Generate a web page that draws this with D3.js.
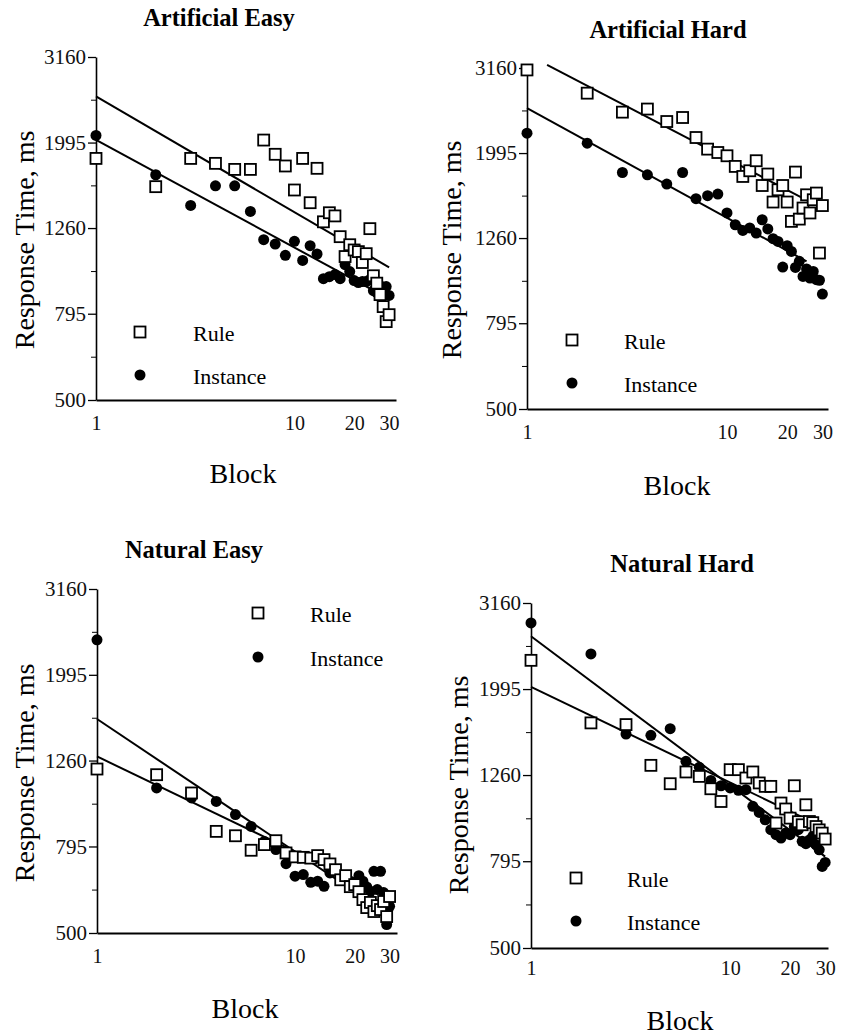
<!DOCTYPE html>
<html>
<head>
<meta charset="utf-8">
<script src="https://cdn.jsdelivr.net/npm/d3@7"></script>
<style>
  body { margin: 0; background: #fff; }
  svg { display: block; font-family: 'Liberation Serif', 'Times New Roman', serif; }
</style>
</head>
<body>
<svg id="chart" width="841" height="1035"></svg>
<script>
const blocks = [1, 2, 3, 4, 5, 6, 7, 8, 9, 10, 11, 12, 13, 14, 15, 16, 17, 18, 19, 20, 21, 22, 23, 24, 25, 26, 27, 28, 29, 30]
const yTicks = [500, 795, 1260, 1995, 3160]
const yMinorTicks = [631, 1000, 1585, 2512]
const xTicks = [1, 10, 20, 30]
const titles = ['Artificial Easy', 'Artificial Hard', 'Natural Easy', 'Natural Hard']

// response times per block
const ruleAE = [1832, 1574, 1832, 1784, 1727, 1727, 2022, 1873, 1759, 1546, 1832, 1444, 1737, 1303, 1368, 1345, 1203, 1081, 1152, 1120, 1110, 1047, 1098, 1256, 975, 937, 881, 826, 762, 791]
const instAE = [2073, 1678, 1423, 1581, 1581, 1378, 1184, 1156, 1088, 1173, 1059, 1146, 1096, 960, 970, 981, 960, 1035, 997, 950, 940, 945, 945, 955, 900, 891, 925, 891, 920, 877]
const ruleAH = [3127, 2758, 2489, 2531, 2366, 2418, 2170, 2038, 2001, 1966, 1856, 1758, 1813, 1914, 1674, 1781, 1531, 1636, 1674, 1531, 1379, 1800, 1396, 1482, 1592, 1443, 1550, 1607, 1162, 1502]
const instAH = [2222, 2105, 1796, 1774, 1687, 1796, 1559, 1584, 1598, 1443, 1354, 1313, 1331, 1295, 1391, 1324, 1256, 1237, 1077, 1209, 1172, 1075, 1111, 1024, 1066, 1015, 1052, 1006, 1003, 931]
const ruleNE = [1204, 1168, 1059, 862, 842, 779, 803, 820, 768, 752, 750, 747, 757, 741, 724, 702, 665, 680, 641, 648, 624, 598, 573, 589, 561, 579, 567, 592, 546, 608]
const instNE = [2406, 1088, 1031, 1012, 943, 885, 817, 782, 725, 678, 684, 656, 660, 642, 690, 696, 680, 672, 660, 650, 680, 660, 640, 625, 696, 631, 696, 621, 523, 577]
const ruleNH = [2326, 1665, 1650, 1327, 1203, 1281, 1251, 1171, 1094, 1297, 1297, 1240, 1281, 1208, 1186, 1186, 975, 1085, 1051, 1001, 1190, 982, 966, 1075, 983, 977, 957, 940, 924, 895]
const instNH = [2841, 2407, 1569, 1558, 1614, 1356, 1313, 1224, 1190, 1176, 1161, 1165, 1066, 1032, 992, 941, 916, 900, 924, 916, 957, 941, 884, 873, 891, 908, 868, 845, 773, 790]

// fitted power-law lines, [block, ms] end points
const fitRuleAE = [[1, 2556], [30, 1020]]
const fitInstAE = [[1, 2024], [30, 861]]
const fitRuleAH = [[1.26, 3214], [30, 1479]]
const fitInstAH = [[1, 2543], [25, 1111]]
const fitRuleNE = [[1, 1288], [30, 606]]
const fitInstNE = [[1, 1574], [30, 551]]
const fitRuleNH = [[1, 2018], [30, 949]]
const fitInstNH = [[1, 2645], [30, 815]]

const panels = [
  { rule: ruleAE, inst: instAE, fitRule: fitRuleAE, fitInst: fitInstAE,
    x0: 96, x1: 396, xMax: 32.5, yTop: 57, yBot: 400, title: [219, 26], tickY: 430, block: [243, 483], ylab: [25, 240], legend: [140, 332, 375, 193] },
  { rule: ruleAH, inst: instAH, fitRule: fitRuleAH, fitInst: fitInstAH,
    x0: 527, x1: 828, xMax: 32, yTop: 68, yBot: 409, title: [668, 38], tickY: 439, block: [677, 495], ylab: [452, 250], legend: [572, 340, 383, 624] },
  { rule: ruleNE, inst: instNE, fitRule: fitRuleNE, fitInst: fitInstNE,
    x0: 97, x1: 397, xMax: 32.7, yTop: 589, yBot: 933, title: [194, 558], tickY: 963, block: [245, 1018], ylab: [25, 773], legend: [258, 613, 657, 310] },
  { rule: ruleNH, inst: instNH, fitRule: fitRuleNH, fitInst: fitInstNH,
    x0: 531, x1: 828, xMax: 31, yTop: 603, yBot: 948, title: [682, 572], tickY: 975, block: [680, 1030], ylab: [459, 785], legend: [576, 878, 921, 627] }
]

const svg = d3.select('#chart')
const sq = 11
const rad = 5.5

panels.forEach((p, i) => drawPanel(p, titles[i]))

function drawPanel (p, title) {
  const x = d3.scaleLog().domain([1, p.xMax]).range([p.x0, p.x1])
  const y = d3.scaleLog().domain([500, 3160]).range([p.yBot, p.yTop])
  const g = svg.append('g')

  // y axis, major + minor ticks
  const yAxis = g.append('g')
    .attr('transform', `translate(${p.x0},0)`)
    .call(d3.axisLeft(y).tickValues(yTicks).tickFormat(d3.format('d')).tickSize(8).tickSizeOuter(0).tickPadding(2))
  yAxis.select('.domain').attr('stroke-width', 1.6)
  yAxis.selectAll('.tick line').attr('stroke-width', 1.3)
  yAxis.selectAll('text').attr('font-size', 21).attr('font-family', 'Liberation Serif, serif').attr('fill', '#111')
  g.append('g')
    .attr('transform', `translate(${p.x0},0)`)
    .call(d3.axisLeft(y).tickValues(yMinorTicks).tickFormat('').tickSize(5).tickSizeOuter(0))
    .call(a => a.select('.domain').remove())
    .selectAll('.tick line').attr('stroke-width', 1)

  // x axis
  const xAxis = g.append('g')
    .attr('transform', `translate(0,${p.yBot})`)
    .call(d3.axisBottom(x).tickValues(xTicks).tickFormat(d3.format('d')).tickSize(0).tickSizeOuter(0))
  xAxis.select('.domain').attr('stroke-width', 2.2)
  xAxis.selectAll('text')
    .attr('y', p.tickY - p.yBot).attr('dy', 0)
    .attr('font-size', 20).attr('font-family', 'Liberation Serif, serif').attr('fill', '#111')

  // fitted lines
  const line = d3.line().x(d => x(d[0])).y(d => y(d[1]))
  g.append('path').datum(p.fitRule).attr('d', line).attr('stroke', '#000').attr('stroke-width', 2).attr('fill', 'none')
  g.append('path').datum(p.fitInst).attr('d', line).attr('stroke', '#000').attr('stroke-width', 2).attr('fill', 'none')

  // instance points
  g.selectAll('circle.inst').data(p.inst).enter().append('circle')
    .attr('class', 'inst')
    .attr('cx', (d, i) => x(blocks[i]))
    .attr('cy', d => y(d))
    .attr('r', rad)
    .attr('fill', '#000')

  // rule points
  g.selectAll('rect.rule').data(p.rule).enter().append('rect')
    .attr('class', 'rule')
    .attr('x', (d, i) => x(blocks[i]) - sq / 2)
    .attr('y', d => y(d) - sq / 2)
    .attr('width', sq).attr('height', sq)
    .attr('fill', '#fff').attr('stroke', '#000').attr('stroke-width', 1.8)

  // legend
  const [lx, ly1, ly2, tx] = p.legend
  g.append('rect').attr('x', lx - sq / 2).attr('y', ly1 - sq / 2).attr('width', sq).attr('height', sq)
    .attr('fill', '#fff').attr('stroke', '#000').attr('stroke-width', 1.8)
  g.append('circle').attr('cx', lx).attr('cy', ly2).attr('r', rad).attr('fill', '#000')
  g.append('text').attr('x', tx).attr('y', ly1 + 9).attr('font-size', 22).text('Rule')
  g.append('text').attr('x', tx).attr('y', ly2 + 9).attr('font-size', 22).text('Instance')

  // titles and labels
  g.append('text').attr('x', p.title[0]).attr('y', p.title[1]).attr('text-anchor', 'middle')
    .attr('font-size', 24.5).attr('font-weight', 'bold').text(title)
  g.append('text').attr('x', p.block[0]).attr('y', p.block[1]).attr('text-anchor', 'middle')
    .attr('font-size', 28).text('Block')
  g.append('text')
    .attr('transform', `translate(${p.ylab[0] + 9},${p.ylab[1]}) rotate(-90)`)
    .attr('text-anchor', 'middle').attr('font-size', 28).text('Response Time, ms')
}
</script>
</body>
</html>
